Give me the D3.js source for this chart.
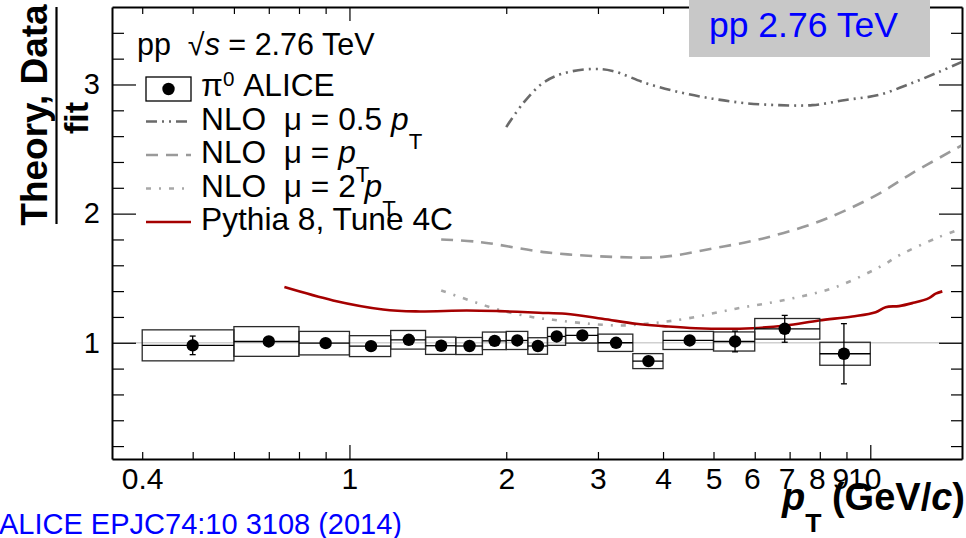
<!DOCTYPE html>
<html lang="en">
<head>
<meta charset="UTF-8">
<title>pi0 / fit, pp 2.76 TeV</title>
<script src="https://cdnjs.cloudflare.com/ajax/libs/d3/7.8.5/d3.min.js"></script>
<style>
  body { margin: 0; background: #fff; }
  svg { display: block; }
  text { white-space: pre; }
</style>
</head>
<body>
<script>
// pi0 data points (ratio to fit), pT bins in GeV/c
const binLow  = [0.4, 0.6, 0.8, 1.0, 1.2, 1.4, 1.6, 1.8, 2.0, 2.2, 2.4, 2.6, 3.0, 3.5, 4.0, 5.0, 6.0, 8.0];
const binHigh = [0.6, 0.8, 1.0, 1.2, 1.4, 1.6, 1.8, 2.0, 2.2, 2.4, 2.6, 3.0, 3.5, 4.0, 5.0, 6.0, 8.0, 10.0];
const ptData  = [0.5, 0.7, 0.9, 1.1, 1.3, 1.5, 1.7, 1.9, 2.1, 2.3, 2.5, 2.8, 3.25, 3.75, 4.5, 5.5, 6.85, 8.9];
const ratio   = [0.98, 1.01, 0.997, 0.974, 1.023, 0.977, 0.975, 1.015, 1.018, 0.975, 1.049, 1.057, 1.0, 0.858, 1.018, 1.01, 1.108, 0.915];
const statErr = [0.072, 0.02, 0.015, 0.015, 0.015, 0.015, 0.015, 0.015, 0.015, 0.015, 0.015, 0.015, 0.02, 0.025, 0.03, 0.08, 0.104, 0.233];
const sysErr  = [0.12, 0.115, 0.091, 0.081, 0.072, 0.067, 0.066, 0.068, 0.07, 0.064, 0.069, 0.06, 0.067, 0.058, 0.07, 0.074, 0.08, 0.089];

// theory curves, ratio to fit
const nlo05Pt  = [2.0, 2.15, 2.35, 2.57, 2.93, 3.2, 3.71, 4.3, 4.98, 5.77, 6.68, 7.74, 8.97, 10.4, 12.0, 13.6, 15.0];
const nlo05Val = [2.67, 2.85, 3.01, 3.085, 3.12, 3.105, 3.01, 2.94, 2.89, 2.855, 2.84, 2.84, 2.88, 2.92, 3.01, 3.10, 3.175];
const nlo1Pt   = [1.5, 1.78, 2.39, 3.2, 4.0, 4.98, 6.2, 7.74, 8.97, 10.4, 12.0, 14.4, 15.0];
const nlo1Val  = [1.80, 1.78, 1.70, 1.665, 1.665, 1.73, 1.806, 1.92, 2.026, 2.155, 2.31, 2.49, 2.53];
const nlo2Pt   = [1.5, 1.72, 1.94, 2.25, 2.46, 2.89, 3.34, 3.82, 4.42, 5.52, 6.88, 8.58, 10.7, 11.2, 13.5, 15.0];
const nlo2Val  = [1.405, 1.322, 1.254, 1.198, 1.178, 1.147, 1.134, 1.152, 1.186, 1.264, 1.333, 1.431, 1.612, 1.664, 1.816, 1.884];
const pythiaPt  = [0.75, 0.93, 1.16, 1.34, 1.68, 1.94, 2.31, 2.6, 3.06, 3.55, 4.0, 4.62, 5.94, 6.88, 7.97, 9.24, 10.24, 10.7, 11.35, 12.04, 12.96, 13.35, 13.75];
const pythiaVal = [1.431, 1.328, 1.258, 1.243, 1.25, 1.245, 1.233, 1.225, 1.186, 1.147, 1.129, 1.113, 1.113, 1.134, 1.173, 1.204, 1.237, 1.276, 1.284, 1.307, 1.346, 1.38, 1.398];

// axis ticks
const xTicks    = [0.4, 0.5, 0.6, 0.7, 0.8, 0.9, 1, 2, 3, 4, 5, 6, 7, 8, 9, 10];
const xLabelled = [0.4, 1, 2, 3, 4, 5, 6, 7, 8, 9, 10];
const xMajor    = [1, 10];
const yTicks    = [0.2, 0.4, 0.6, 0.8, 1, 1.2, 1.4, 1.6, 1.8, 2, 2.2, 2.4, 2.6, 2.8, 3, 3.2, 3.4];
const yLabelled = [1, 2, 3];

const FONT = '"Liberation Sans", Arial, Helvetica, sans-serif';
const width = 966, height = 538;
const plotLeft = 112, plotRight = 962, plotTop = 7, plotBottom = 459;

const x = d3.scaleLog().domain([0.35, 15]).range([plotLeft, plotRight]);
const y = d3.scaleLinear().domain([0.1, 3.6]).range([plotBottom, plotTop]);

const svg = d3.select("body").append("svg")
    .attr("width", width).attr("height", height)
    .attr("font-family", FONT);

svg.append("defs").append("clipPath").attr("id", "plot")
  .append("rect").attr("x", plotLeft).attr("y", plotTop)
  .attr("width", plotRight - plotLeft).attr("height", plotBottom - plotTop);

// line at ratio 1
svg.append("line")
    .attr("x1", plotLeft).attr("x2", plotRight)
    .attr("y1", y(1)).attr("y2", y(1))
    .attr("stroke", "#d0d0d0").attr("stroke-width", 1.5);

// axes (ROOT style: ticks inside the frame)
function styleAxis(g, size) {
    g.attr("font-family", FONT).attr("font-size", size);
    g.select(".domain").attr("stroke", "#000").attr("stroke-width", 2);
    g.selectAll(".tick line").attr("stroke", "#000").attr("stroke-width", 1.2);
    g.selectAll(".tick text").attr("fill", "#000");
}
const xfmt = d => xLabelled.includes(d) ? d3.format("~g")(d) : "";
const yfmt = d => yLabelled.includes(d) ? d : "";

const gx = svg.append("g").attr("transform", "translate(0," + plotBottom + ")")
    .call(d3.axisBottom(x).tickValues(xTicks).tickFormat(xfmt)
        .tickSize(-7).tickSizeOuter(0).tickPadding(9));
gx.selectAll(".tick line").filter(d => xMajor.includes(d)).attr("y2", -14);
// labels sit a little left of the ticks at high pT, as in the original
gx.selectAll(".tick text").attr("dx", d => d >= 9 ? -6 : d >= 6 ? -3 : 0);
styleAxis(gx, 30);

const gxt = svg.append("g").attr("transform", "translate(0," + plotTop + ")")
    .call(d3.axisTop(x).tickValues(xTicks).tickFormat("").tickSize(-7).tickSizeOuter(0));
gxt.selectAll(".tick line").filter(d => xMajor.includes(d)).attr("y2", 14);
styleAxis(gxt, 10);

const gy = svg.append("g").attr("transform", "translate(" + plotLeft + ",0)")
    .call(d3.axisLeft(y).tickValues(yTicks).tickFormat(yfmt)
        .tickSize(-12).tickSizeOuter(0).tickPadding(12));
gy.selectAll(".tick line").filter(d => yLabelled.includes(d)).attr("x2", 24);
styleAxis(gy, 29);

const gyr = svg.append("g").attr("transform", "translate(" + plotRight + ",0)")
    .call(d3.axisRight(y).tickValues(yTicks).tickFormat("").tickSize(-11).tickSizeOuter(0));
gyr.selectAll(".tick line").filter(d => yLabelled.includes(d)).attr("x2", -23);
styleAxis(gyr, 10);

// theory curves
const curves = [
    {pt: nlo05Pt, val: nlo05Val, color: "#6a6a6a", dash: "11,5,2,5,2,5", w: 2.6},
    {pt: nlo1Pt, val: nlo1Val, color: "#9a9a9a", dash: "12,8", w: 2.6},
    {pt: nlo2Pt, val: nlo2Val, color: "#a8a8a8", dash: "5,8,2,8", w: 2.6},
    {pt: pythiaPt, val: pythiaVal, color: "#a50000", dash: null, w: 2.6}
];
const line = d3.line().x(d => x(d[0])).y(d => y(d[1])).curve(d3.curveCatmullRom);

const gc = svg.append("g").attr("clip-path", "url(#plot)");
curves.forEach(c => {
    gc.append("path")
        .attr("d", line(c.pt.map((p, i) => [p, c.val[i]])))
        .attr("fill", "none")
        .attr("stroke", c.color)
        .attr("stroke-width", c.w)
        .attr("stroke-dasharray", c.dash);
});

// data: systematic boxes, bin width line, stat errors, markers
const points = ptData.map((pt, i) => ({pt, lo: binLow[i], hi: binHigh[i], v: ratio[i], st: statErr[i], sy: sysErr[i]}));
const gd = svg.append("g");
gd.selectAll("rect.sys").data(points).join("rect")
    .attr("class", "sys")
    .attr("x", d => x(d.lo)).attr("width", d => x(d.hi) - x(d.lo))
    .attr("y", d => y(d.v + d.sy)).attr("height", d => y(d.v - d.sy) - y(d.v + d.sy))
    .attr("fill", "none").attr("stroke", "#2a2a2a").attr("stroke-width", 1.3);
gd.selectAll("line.bin").data(points).join("line")
    .attr("class", "bin")
    .attr("x1", d => x(d.lo)).attr("x2", d => x(d.hi))
    .attr("y1", d => y(d.v)).attr("y2", d => y(d.v))
    .attr("stroke", "#000").attr("stroke-width", 1.3);
gd.selectAll("line.stat").data(points).join("line")
    .attr("class", "stat")
    .attr("x1", d => x(d.pt)).attr("x2", d => x(d.pt))
    .attr("y1", d => y(d.v + d.st)).attr("y2", d => y(d.v - d.st))
    .attr("stroke", "#000").attr("stroke-width", 1.3);
[1, -1].forEach(s => {
    gd.selectAll("line.cap" + (s > 0 ? "u" : "d")).data(points).join("line")
        .attr("class", "cap" + (s > 0 ? "u" : "d"))
        .attr("x1", d => x(d.pt) - 3).attr("x2", d => x(d.pt) + 3)
        .attr("y1", d => y(d.v + s * d.st)).attr("y2", d => y(d.v + s * d.st))
        .attr("stroke", "#000").attr("stroke-width", 1.3);
});
gd.selectAll("circle").data(points).join("circle")
    .attr("cx", d => x(d.pt)).attr("cy", d => y(d.v)).attr("r", 6.2)
    .attr("fill", "#000");

// rich text helper: parts are [text, kind]
function rich(sel, parts, size, subShift) {
    let off = 0;
    parts.forEach(([t, kind]) => {
        let target = 0;
        if (kind === "sup") target = -0.3 * size;
        if (kind === "sub") target = subShift;
        const ts = sel.append("tspan").text(t);
        if (target - off !== 0) ts.attr("dy", target - off);
        off = target;
        if (kind === "sup") ts.attr("font-size", size * 0.65);
        if (kind === "sub") ts.attr("font-size", size * 0.7);
        if (kind === "it") ts.attr("font-style", "italic");
    });
}

// legend
const legendRows = [
    {sym: "data", parts: [["π", ""], ["0", "sup"], [" ALICE", ""]]},
    {sym: 0, parts: [["NLO  μ = 0.5 ", ""], ["p", "it"], ["T", "sub"]]},
    {sym: 1, parts: [["NLO  μ = ", ""], ["p", "it"], ["T", "sub"]]},
    {sym: 2, parts: [["NLO  μ = 2 ", ""], ["p", "it"], ["T", "sub"]]},
    {sym: 3, parts: [["Pythia 8, Tune 4C", ""]]}
];
const gl = svg.append("g");
const hdr = gl.append("text").attr("x", 137).attr("y", 55).attr("font-size", 30.5);
rich(hdr, [["pp  √", ""], ["s", "it"], [" = 2.76 TeV", ""]], 30.5, 0);

legendRows.forEach((r, i) => {
    const by = 96 + i * 33.5;
    const cy = by - 7;
    if (r.sym === "data") {
        gl.append("rect").attr("x", 146).attr("y", cy - 12).attr("width", 45).attr("height", 24)
            .attr("fill", "none").attr("stroke", "#000").attr("stroke-width", 1.3);
        gl.append("circle").attr("cx", 168.5).attr("cy", cy).attr("r", 6.2).attr("fill", "#000");
    } else {
        const c = curves[r.sym];
        gl.append("line").attr("x1", 146).attr("x2", 191).attr("y1", by - 8).attr("y2", by - 8)
            .attr("stroke", c.color).attr("stroke-width", c.w).attr("stroke-dasharray", c.dash);
    }
    const t = gl.append("text").attr("x", 201).attr("y", by).attr("font-size", 31.7);
    rich(t, r.parts, 31.7, 19);
});

// y title: fraction
const yt = svg.append("g").attr("font-weight", "bold");
yt.append("text").attr("transform", "translate(47,115) rotate(-90)")
    .attr("text-anchor", "middle").attr("font-size", 37).text("Theory, Data");
yt.append("line").attr("x1", 56.5).attr("x2", 56.5).attr("y1", 7).attr("y2", 224)
    .attr("stroke", "#000").attr("stroke-width", 2.2);
yt.append("text").attr("transform", "translate(88,118) rotate(-90)")
    .attr("text-anchor", "middle").attr("font-size", 34).text("fit");

// x title
const xt = svg.append("text").attr("x", 965).attr("y", 510)
    .attr("text-anchor", "end").attr("font-size", 38).attr("font-weight", "bold");
rich(xt, [["p", "it"], ["T", "sub"], [" (GeV/", ""], ["c", "it"], [")", ""]], 38, 22);

// reference tag
svg.append("text").attr("x", -1).attr("y", 534).attr("font-size", 29)
    .attr("fill", "#0000ff").text("ALICE EPJC74:10 3108 (2014)");

// energy box, top right
svg.append("rect").attr("x", 689).attr("y", 0).attr("width", 241).attr("height", 57)
    .attr("fill", "#c8c8c8");
svg.append("text").attr("x", 709).attr("y", 37).attr("font-size", 35.5)
    .attr("fill", "#0000ff").text("pp 2.76 TeV");
</script>
</body>
</html>
